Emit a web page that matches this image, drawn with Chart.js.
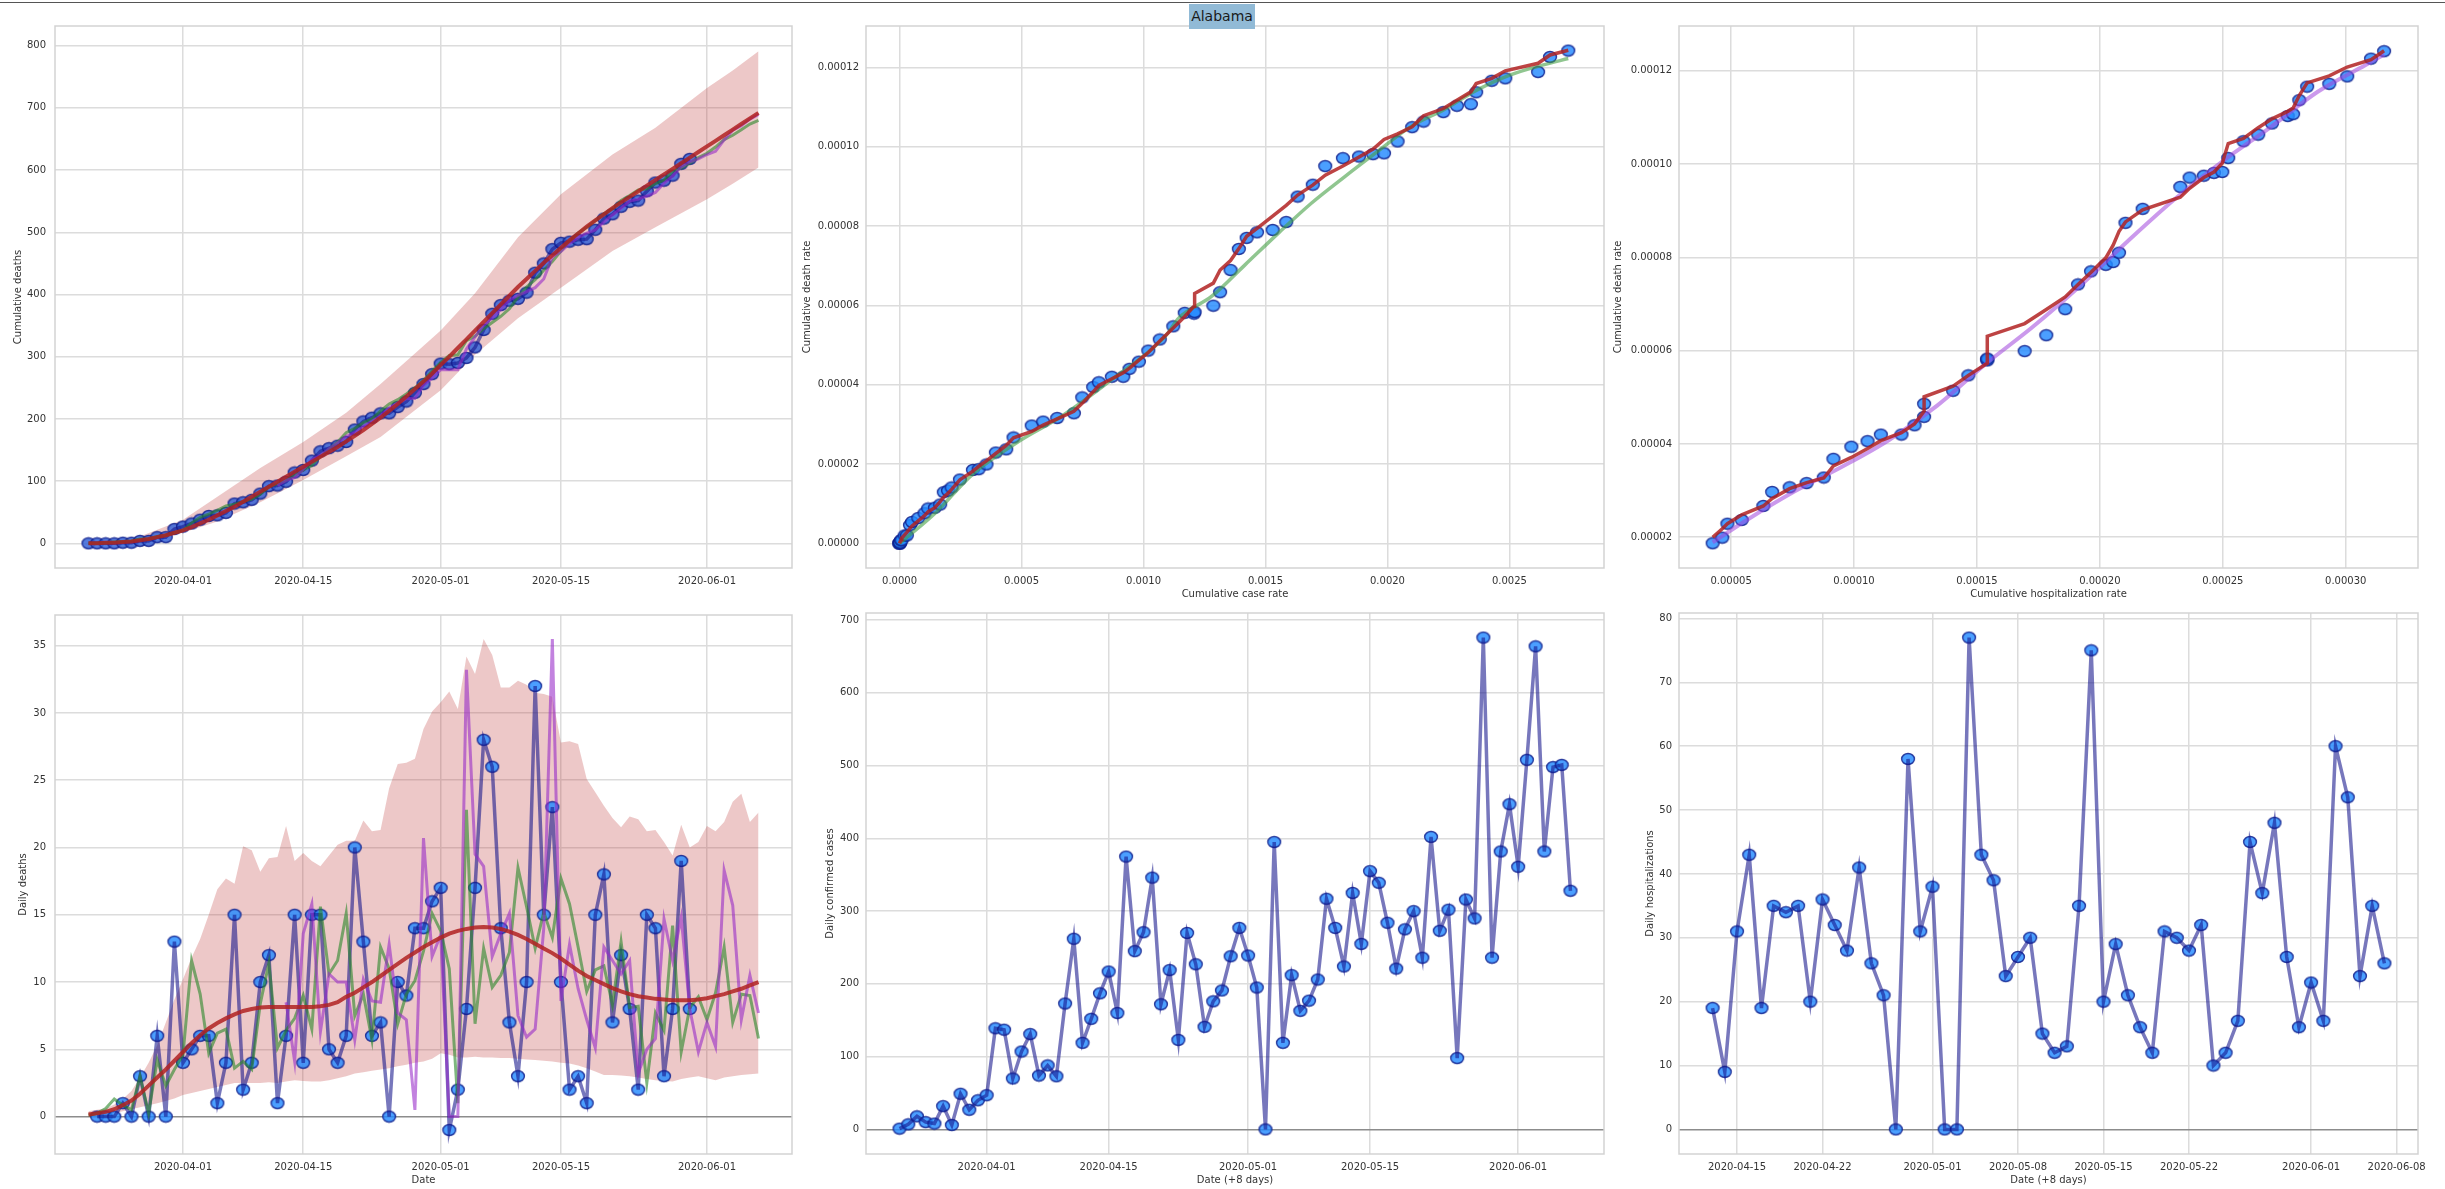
<!DOCTYPE html>
<html>
<head>
<meta charset="utf-8">
<script src="https://cdn.jsdelivr.net/npm/chart.js@4.4.1/dist/chart.umd.min.js"></script>
<style>
html,body{margin:0;padding:0;background:#fff;}
#wrap{position:relative;width:2445px;height:1189px;overflow:hidden;background:#fff;}
canvas{position:absolute;}
#topline{position:absolute;left:0;top:2px;width:2445px;height:1px;background:#555;}
#title{position:absolute;left:1189px;top:4px;width:66px;height:25px;line-height:25px;background:rgb(145,186,214);font-family:"DejaVu Sans";font-size:14px;color:#1a1a1a;text-align:center;z-index:5;}
</style>
</head>
<body>
<div id="wrap">
<div id="topline"></div>
<canvas id="cTL"></canvas>
<canvas id="cTM"></canvas>
<canvas id="cTR"></canvas>
<canvas id="cBL"></canvas>
<canvas id="cBM"></canvas>
<canvas id="cBR"></canvas>
<div id="title">Alabama</div>
</div>
<script>
// ---------------- DATA ----------------
// Observed cumulative deaths, daily from 2020-03-21
const cumDeathStart = '2020-03-21';
const cumulativeDeaths = [0,0,0,0,1,1,4,4,10,10, 23,27,32,38,44,45,49,64,66,70, 80,92,93,99,114,118,133,148,153,157,
  163,183,196,202,209,209,219,228,242,256, 272,289,288,290,298,315,343,369,383,390, 393,403,435,450,473,483,485,488,489,504,
  522,529,541,549,551,566,580,583,591,610, 618];

// Observed daily deaths, from 2020-03-22
const dailyDeathStart = '2020-03-22';
const dailyDeaths = [0,0,0,1,0,3,0,6,0,13, 4,5,6,6,1,4,15,2,4,10, 12,1,6,15,4,15,15,5,4,6, 20,13,6,7,0,10,9,14,14,16,
  17,-1,2,8,17,28,26,14,7,3, 10,32,15,23,10,2,3,1,15,18, 7,12,8,2,15,14,3,8,19,8];

// Daily confirmed cases (date +8 days), from 2020-03-22
const caseStart = '2020-03-22';
const dailyCases = [1,7,18,10,8,32,6,49,27,40, 47,139,137,70,107,131,74,88,73,173, 262,119,152,187,217,160,375,245,271,346,
  172,219,123,270,227,141,176,191,238,277, 239,195,0,395,119,212,163,177,206,317, 277,224,325,255,355,339,284,221,275,300,
  236,402,273,302,98,316,290,676,236,382, 447,361,508,664,382,498,501,328];

// Daily hospitalizations (date +8 days), from 2020-04-13
const hospStart = '2020-04-13';
const dailyHosp = [19,9,31,43,19,35,34,35,20,36, 32,28,41,26,21,0,58,31,38,0, 0,77,43,39,24,27,30,15,12,13,
  35,75,20,29,21,16,12,31,30,28, 32,10,12,17,45,37,48,27,16,23, 17,60,52,24,35,26];

// Model curves for daily deaths, from 2020-03-21
const modelStart = '2020-03-21';
const redDaily = [0.15,0.25,0.35,0.55,0.85,1.2,1.7,2.3,2.9,3.5, 4.15,4.8,5.45,6.05,6.55,6.95,7.3,7.6,7.85,8.0,
  8.1,8.15,8.15,8.15,8.15,8.15,8.15,8.2,8.3,8.5, 8.9,9.2,9.6,10.0,10.45,10.9,11.35,11.8,12.2,12.6,
  12.95,13.3,13.6,13.8,13.95,14.05,14.1,14.05,13.95,13.75, 13.5,13.2,12.85,12.5,12.15,11.75,11.3,10.85,10.45,10.15,
  9.85,9.55,9.3,9.1,8.95,8.85,8.75,8.7,8.65,8.65, 8.65,8.7,8.8,8.95,9.1,9.3,9.5,9.75,10.0];
const greenDaily = [0.1,0.25,0.6,1.3,0.85,0.5,3.0,0.25,4.2,2.3, 3.5,4.6,11.6,9.1,4.7,6.2,6.5,3.6,4.1,3.5,
  8.4,11.4,5.1,6.4,7.3,9.0,6.5,15.6,10.6,11.6, 15.1,7.5,9.1,5.7,12.6,11.0,6.9,9.1,10.1,12.3,
  15.1,13.8,11.0,1.0,22.8,6.9,12.5,9.6,10.5,12.2, 18.5,15.6,12.5,15.2,13.3,17.7,15.8,12.6,9.3,10.9,
  11.2,8.3,13.0,8.1,8.2,2.5,7.7,6.4,14.2,4.8, 8.1,8.9,7.2,9.2,12.6,7.0,9.1,9.0,5.8];
const bandDailyUpper = [0.4,0.5,0.6,0.9,1.3,1.9,2.9,4.0,5.3,7.0, 8.7,10.2,11.8,13.2,15.0,16.9,17.7,17.3,20.1,19.8,
  18.2,19.2,19.3,21.6,19.0,19.6,19.0,18.6,19.4,20.2, 20.5,20.5,22.0,21.2,21.3,24.4,26.2,26.3,26.6,28.8,
  30.1,30.8,31.6,30.3,34.2,32.9,35.5,34.3,31.9,31.9, 32.4,32.1,31.5,31.4,31.2,27.8,27.9,27.7,25.1,24.1,
  23.1,22.2,21.5,22.3,22.1,21.2,21.3,20.4,19.4,21.7, 20.0,20.4,21.6,21.2,21.9,23.4,24.0,21.9,22.6];
const bandDailyLower = [0,0.05,0.1,0.25,0.4,0.55,0.7,0.85,1.0,1.15, 1.35,1.6,1.75,1.9,2.05,2.2,2.35,2.5,2.5,2.5,
  2.5,2.55,2.5,2.6,2.7,2.65,2.6,2.6,2.7,2.85, 3.0,3.2,3.3,3.4,3.5,3.6,3.75,3.85,4.0,4.1,
  4.3,4.7,4.6,4.4,4.4,4.45,4.4,4.4,4.35,4.35, 4.3,4.25,4.2,4.15,4.1,4.0,3.95,3.8,3.6,3.35,
  3.1,3.1,3.05,3.0,2.9,2.8,2.7,2.65,2.6,2.8, 2.9,3.0,2.85,2.7,2.9,3.0,3.1,3.15,3.2];
// Purple model (daily deaths), from 2020-04-13
const purpleDailyStart = '2020-04-13';
const purpleDaily = [8.5,4.1,13.6,15.8,6.3,10.6,10.0,10.0,5.7,10.2, 8.6,8.5,12.8,7.7,7.2,0.5,20.7,11.9,13.5,0,
  0,33.2,19.5,18.6,11.9,13.6,15.1,7.5,5.9,6.5, 14.0,35.5,8.6,12.8,9.5,7.2,5.1,12.6,11.6,10.6,
  11.6,3.2,5.0,5.8,14.7,11.6,14.8,8.0,4.8,7.0, 5.2,18.3,15.7,7.2,10.5,7.7];

// Model curves for cumulative deaths, from 2020-03-21
const redCum = [0,0,1,1,2,3,5,7,10,13, 17,21,26,32,38,45,52,59,67,75, 83,91,99,107,115,123,131,139,147,155,
  164,173,182,192,202,213,224,236,248,260, 273,287,300,314,328,342,356,370,384,398, 412,425,438,451,463,475,487,498,509,519,
  529,539,548,557,566,575,584,593,602,611, 620,629,638,647,656,665,674,683,692];
const greenCum = [0,0,1,2,3,4,7,7,11,13, 17,21,33,42,47,53,60,63,67,71, 79,91,96,102,109,118,125,140,151,163,
  178,185,194,200,213,224,231,240,250,262, 277,291,302,303,326,333,345,355,365,377, 396,412,424,439,453,470,486,499,508,519,
  530,538,551,559,568,570,578,584,598,603, 611,620,627,637,649,656,665,674,680];
const purpleCumStart = '2020-04-12';
const purpleCum = [93,101.5,105.6,119.2,135,141.3,151.9,161.9,171.9,177.6, 187.8,196.4,204.9,217.7,225.4,232.6,233.1,253.8,265.7,279.2,
  279.2,279.2,312.4,331.9,350.5,362.4,376,391.1,398.6,404.5, 411,425,460.5,469.1,481.9,491.4,498.6,503.7,516.3,527.9,
  538.5,550.1,553.3,558.3,564.1,578.8,590.4,605.2,613.2,618, 625,630.2,648.5,664.2,671.4,681.9,689.6];
// Band for cumulative deaths (days after 2020-03-21)
const cumBandDay = [0,5,11,15,20,25,30,34,38,41,45,50,55,61,66,72,75,78];
const cumBandUpper = [0,6,38,75,121,163,210,256,305,342,402,492,561,625,668,732,760,791];
const cumBandLower = [0,1,17,35,66,102,140,171,214,246,303,362,411,470,508,553,578,604];

// Cumulative case rate vs cumulative death rate (one point per day from 2020-03-21)
const caseRate = [0,0,0,0,0.0000021,0.0000021,0.0000064,0.0000085,0.0000213,0.0000299,
  0.0000427,0.0000512,0.0000768,0.0001024,0.0001173,0.000145,0.0001664,0.0001813,0.0001984,0.0002133,
  0.0002474,0.0003008,0.0003242,0.0003562,0.0003946,0.0004373,0.0004672,0.0005418,0.0005887,0.0006463,
  0.0007146,0.0007487,0.0007935,0.000817,0.0008703,0.0009172,0.0009428,0.0009812,0.0010196,0.0010666,
  0.001122,0.001169,0.0012073,0.0012095,0.0012863,0.001314,0.0013567,0.0013908,0.0014228,0.0014654,
  0.0015294,0.0015849,0.0016318,0.0016937,0.0017449,0.0018174,0.0018835,0.0019411,0.0019859,0.0020414,
  0.0021011,0.002148,0.002229,0.0022845,0.002342,0.0023635,0.0024275,0.0024829,0.0026173,0.0026663,0.002741];
const deathRate = [0,0,0,0,2e-7,2e-7,8e-7,8e-7,2.0e-6,2.0e-6,
  4.6e-6,5.4e-6,6.4e-6,7.6e-6,8.8e-6,9.0e-6,9.8e-6,1.29e-5,1.33e-5,1.41e-5,
  1.61e-5,1.85e-5,1.87e-5,1.99e-5,2.29e-5,2.37e-5,2.67e-5,2.97e-5,3.07e-5,3.16e-5,
  3.28e-5,3.68e-5,3.94e-5,4.06e-5,4.20e-5,4.20e-5,4.40e-5,4.58e-5,4.86e-5,5.14e-5,
  5.47e-5,5.81e-5,5.79e-5,5.83e-5,5.99e-5,6.33e-5,6.89e-5,7.42e-5,7.70e-5,7.84e-5,
  7.90e-5,8.10e-5,8.74e-5,9.04e-5,9.51e-5,9.71e-5,9.75e-5,9.81e-5,9.83e-5,1.013e-4,
  1.049e-4,1.063e-4,1.087e-4,1.103e-4,1.107e-4,1.137e-4,1.166e-4,1.172e-4,1.188e-4,1.226e-4,1.242e-4];
const redCaseFit = [0,0,0,0,3e-7,4e-7,9e-7,1.3e-6,2.2e-6,2.8e-6,
  3.8e-6,4.4e-6,5.7e-6,7.0e-6,8.0e-6,9.0e-6,1.05e-5,1.17e-5,1.26e-5,1.36e-5,
  1.60e-5,1.82e-5,1.94e-5,2.08e-5,2.27e-5,2.47e-5,2.66e-5,2.82e-5,2.98e-5,3.14e-5,
  3.33e-5,3.53e-5,3.82e-5,3.98e-5,4.15e-5,4.30e-5,4.42e-5,4.62e-5,4.81e-5,5.10e-5,
  5.43e-5,5.72e-5,5.98e-5,6.30e-5,6.56e-5,6.89e-5,7.13e-5,7.43e-5,7.74e-5,7.94e-5,
  8.25e-5,8.52e-5,8.78e-5,9.03e-5,9.28e-5,9.51e-5,9.74e-5,9.94e-5,1.018e-4,1.032e-4,
  1.050e-4,1.078e-4,1.096e-4,1.117e-4,1.138e-4,1.159e-4,1.172e-4,1.191e-4,1.210e-4,1.231e-4,1.243e-4];
const greenCaseX = [0,0.000149,0.000299,0.000499,0.000661,0.000875,0.001088,0.001145,0.00128,0.001416,
  0.001553,0.001689,0.001824,0.00196,0.002097,0.002231,0.002368,0.002504,0.002639,0.002741];
const greenCaseY = [0,7.8e-6,1.74e-5,2.61e-5,3.19e-5,4.15e-5,5.21e-5,5.68e-5,6.23e-5,7.02e-5,
  7.82e-5,8.58e-5,9.24e-5,9.88e-5,1.051e-4,1.093e-4,1.143e-4,1.181e-4,1.206e-4,1.222e-4];

// Cumulative hospitalization rate vs cumulative death rate (one point per day from 2020-04-12)
const hospRateFirstDay = 22;
const hospRate = [0.0000425,0.0000464,0.0000485,0.0000543,0.0000631,0.0000667,0.0000738,0.0000807,0.0000877,0.0000916,
  0.0000989,0.0001055,0.0001109,0.0001193,0.0001246,0.0001285,0.0001285,0.0001403,0.0001465,0.0001542,
  0.0001542,0.0001542,0.0001694,0.0001782,0.0001859,0.0001911,0.0001964,0.0002024,0.0002054,0.0002078,
  0.0002104,0.0002174,0.0002327,0.0002365,0.0002423,0.0002464,0.0002498,0.0002522,0.0002584,0.0002644,
  0.00027,0.0002764,0.0002786,0.0002811,0.0002843,0.0002933,0.0003006,0.0003103,0.0003156];
const redHospFit = [2.0e-5,2.18e-5,2.29e-5,2.48e-5,2.67e-5,2.83e-5,3.04e-5,3.17e-5,3.27e-5,3.53e-5,
  3.71e-5,3.90e-5,4.07e-5,4.24e-5,4.43e-5,4.70e-5,5.01e-5,5.24e-5,5.47e-5,5.73e-5,
  5.75e-5,6.31e-5,6.58e-5,6.88e-5,7.15e-5,7.42e-5,7.68e-5,7.99e-5,8.26e-5,8.56e-5,
  8.76e-5,9.02e-5,9.29e-5,9.48e-5,9.71e-5,9.83e-5,1.002e-4,1.044e-4,1.055e-4,1.078e-4,
  1.097e-4,1.113e-4,1.120e-4,1.147e-4,1.174e-4,1.189e-4,1.208e-4,1.224e-4,1.243e-4];
const purpleHospX = [0.0000425,0.0000564,0.0000757,0.0000951,0.0001144,0.0001338,0.0001539,0.0001725,0.0001918,0.0002112,
  0.0002305,0.0002499,0.0002692,0.0002886,0.0003079,0.0003157];
const purpleHospY = [1.89e-5,2.37e-5,2.98e-5,3.51e-5,4.09e-5,4.82e-5,5.73e-5,6.5e-5,7.38e-5,8.34e-5,
  9.25e-5,1.006e-4,1.078e-4,1.155e-4,1.212e-4,1.235e-4];

// Tick labels
const deathTickDates = ['2020-04-01','2020-04-15','2020-05-01','2020-05-15','2020-06-01'];
const hospTickDates = ['2020-04-15','2020-04-22','2020-05-01','2020-05-08','2020-05-15','2020-05-22','2020-06-01','2020-06-08'];
const cumDeathTicks = [0,100,200,300,400,500,600,700,800];
const dailyDeathTicks = [0,5,10,15,20,25,30,35];
const caseTicks = [0,100,200,300,400,500,600,700];
const hospTicks = [0,10,20,30,40,50,60,70,80];
const caseRateTicks = [0,0.0005,0.001,0.0015,0.002,0.0025];
const hospRateTicks = [0.00005,0.0001,0.00015,0.0002,0.00025,0.0003];
const deathRateTicks = [0,0.00002,0.00004,0.00006,0.00008,0.0001,0.00012];
const deathRateTicks2 = [0.00002,0.00004,0.00006,0.00008,0.0001,0.00012];

// ---------------- HELPERS ----------------
const FONT = 'DejaVu Sans';
const BASE = Date.UTC(2020,2,21);
function dayOf(s){ const p=s.split('-').map(Number); return Math.round((Date.UTC(p[0],p[1]-1,p[2])-BASE)/864e5); }
function dateLabel(v){ return new Date(BASE+Math.round(v)*864e5).toISOString().slice(0,10); }
function series(start, vals){ const s=dayOf(start); return vals.map((v,i)=>({x:s+i,y:v})); }
function dayPairs(days, vals){ return days.map((d,i)=>({x:d,y:vals[i]})); }
function pairs(xs, ys){ return xs.map((x,i)=>({x:x,y:ys[i]})); }

const C = {
  dotFill:'rgba(35,138,255,0.82)', dotEdge:'rgba(15,30,140,0.85)',
  dotFillDark:'rgba(55,100,215,0.85)',
  navy:'rgba(20,20,140,0.58)', red:'rgba(178,34,34,0.85)', green:'rgba(40,135,40,0.6)',
  purple:'rgba(150,40,200,0.58)', band:'rgba(190,50,50,0.27)'
};
// slightly wide marker (matches the stretched look of the reference)
function makeMarker(fill, edge){
  const c = document.createElement('canvas');
  c.width = 16; c.height = 14;
  const g = c.getContext('2d');
  g.beginPath(); g.ellipse(8, 7, 6.4, 5.5, 0, 0, Math.PI*2);
  g.fillStyle = fill; g.fill();
  g.lineWidth = 1.4; g.strokeStyle = edge; g.stroke();
  return c;
}
const MARKER = makeMarker(C.dotFill, C.dotEdge);
const MARKER_DARK = makeMarker(C.dotFillDark, C.dotEdge);

function dots(data, marker){ return {data, showLine:false, pointStyle:marker||MARKER, pointRadius:6, pointHoverRadius:6, order:10}; }
function line(data, color, width, order, smooth){
  const d = {data, showLine:true, borderColor:color, borderWidth:width, pointRadius:0, pointHoverRadius:0, fill:false, order:order, tension:0};
  if (smooth) d.cubicInterpolationMode = 'monotone';
  return d;
}
function band(lower, upper){
  return [
    {data:lower, showLine:true, borderWidth:0, borderColor:'rgba(0,0,0,0)', pointRadius:0, fill:false, order:21},
    {data:upper, showLine:true, borderWidth:0, borderColor:'rgba(0,0,0,0)', pointRadius:0, fill:'-1', backgroundColor:C.band, order:20}
  ];
}

const framePlugin = {
  id:'frame',
  beforeDatasetsDraw(chart){
    const a = chart.chartArea, ctx = chart.ctx;
    ctx.save(); ctx.strokeStyle='#d3d3d3'; ctx.lineWidth=1.5;
    ctx.strokeRect(a.left, a.top, a.right-a.left, a.bottom-a.top);
    ctx.restore();
  }
};

function panel(id, box, area, o){
  const cv = document.getElementById(id);
  cv.width = box.w; cv.height = box.h;
  cv.style.left = box.x+'px'; cv.style.top = box.y+'px';
  cv.style.width = box.w+'px'; cv.style.height = box.h+'px';
  const yW = area.l - box.x, xH = box.y + box.h - area.b;
  const tickFont = {family:FONT, size:10};
  const titleFont = {family:FONT, size:10};
  new Chart(cv, {
    type:'line',
    data:{datasets:o.datasets},
    plugins:[framePlugin],
    options:{
      responsive:false, animation:false, events:[], devicePixelRatio:1,
      layout:{padding:{top:area.t-box.y, right:box.x+box.w-area.r, left:0, bottom:0}},
      plugins:{legend:{display:false}, tooltip:{enabled:false}},
      scales:{
        x:{type:'linear', min:o.xMin, max:o.xMax,
          afterFit:s=>{s.height=xH;},
          afterBuildTicks:s=>{s.ticks=o.xTicks.map(v=>({value:v}));},
          ticks:{callback:o.xFmt, font:tickFont, color:'#333', padding:7, maxRotation:0, minRotation:0, autoSkip:false},
          grid:{color:'#dcdcdc', lineWidth:1.5, drawTicks:false},
          border:{display:false},
          title:{display:!!o.xTitle, text:o.xTitle||'', font:titleFont, color:'#333', padding:{top:0,bottom:o.xTitlePad||0}}
        },
        y:{type:'linear', min:o.yMin, max:o.yMax,
          afterFit:s=>{s.width=yW;},
          afterBuildTicks:s=>{s.ticks=o.yTicks.map(v=>({value:v}));},
          ticks:{callback:o.yFmt, font:tickFont, color:'#333', padding:o.yTickPad||7, autoSkip:false},
          grid:{color:(c)=> (o.zeroDark && c.tick && c.tick.value===0) ? '#8c8c8c' : '#dcdcdc', lineWidth:1.5, drawTicks:false},
          border:{display:false},
          title:{display:true, text:o.yTitle, font:titleFont, color:'#333', padding:{top:o.yTitlePad||0,bottom:0}}
        }
      }
    }
  });
}

const fmtDate = v => dateLabel(v);
const fmtInt = v => String(v);
const deathXTicks = deathTickDates.map(dayOf);

// ---------------- TOP LEFT: cumulative deaths ----------------
panel('cTL', {x:0,y:0,w:800,h:600}, {l:55,t:26,r:792,b:568}, {
  xMin:-3.9, xMax:81.9, xTicks:deathXTicks, xFmt:fmtDate,
  yMin:-39.6, yMax:831.6, yTicks:cumDeathTicks, yFmt:fmtInt, yTickPad:9,
  yTitle:'Cumulative deaths', yTitlePad:12,
  datasets:[
    ...band(dayPairs(cumBandDay, cumBandLower), dayPairs(cumBandDay, cumBandUpper)),
    dots(series(cumDeathStart, cumulativeDeaths), MARKER_DARK),
    line(series(cumDeathStart, cumulativeDeaths), C.navy, 3.5, 9),
    line(series(modelStart, greenCum), C.green, 3, 8),
    line(series(purpleCumStart, purpleCum), C.purple, 3, 7),
    line(series(modelStart, redCum), C.red, 4, 1)
  ]
});

// ---------------- TOP MIDDLE: death rate vs case rate ----------------
panel('cTM', {x:800,y:0,w:812,h:600}, {l:866,t:26,r:1604,b:568}, {
  xMin:-0.0001375, xMax:0.0028875, xTicks:caseRateTicks, xFmt:v=>v.toFixed(4),
  xTitle:'Cumulative case rate', xTitlePad:0,
  yMin:-0.0000062, yMax:0.0001304, yTicks:deathRateTicks, yFmt:v=>v.toFixed(5),
  yTitle:'Cumulative death rate', yTitlePad:1,
  datasets:[
    dots(pairs(caseRate, deathRate)),
    line(pairs(greenCaseX, greenCaseY), 'rgba(70,160,70,0.6)', 3.5, 8, true),
    line(pairs(caseRate, redCaseFit), C.red, 3.5, 1)
  ]
});

// ---------------- TOP RIGHT: death rate vs hospitalization rate ----------------
const deathRateFromHosp = deathRate.slice(hospRateFirstDay);
panel('cTR', {x:1612,y:0,w:833,h:600}, {l:1679,t:26,r:2418,b:568}, {
  xMin:0.0000288, xMax:0.0003294, xTicks:hospRateTicks, xFmt:v=>v.toFixed(5),
  xTitle:'Cumulative hospitalization rate', xTitlePad:0,
  yMin:0.0000134, yMax:0.0001296, yTicks:deathRateTicks2, yFmt:v=>v.toFixed(5),
  yTitle:'Cumulative death rate', yTitlePad:0,
  datasets:[
    dots(pairs(hospRate, deathRateFromHosp)),
    line(pairs(purpleHospX, purpleHospY), 'rgba(160,70,220,0.55)', 4, 8, true),
    line(pairs(hospRate, redHospFit), C.red, 3.5, 1)
  ]
});

// ---------------- BOTTOM LEFT: daily deaths ----------------
panel('cBL', {x:0,y:600,w:800,h:589}, {l:55,t:612,r:792,b:1154}, {
  xMin:-3.9, xMax:81.9, xTicks:deathXTicks, xFmt:fmtDate,
  xTitle:'Date', xTitlePad:3,
  yMin:-2.78, yMax:37.28, yTicks:dailyDeathTicks, yFmt:fmtInt, yTickPad:9, zeroDark:true,
  yTitle:'Daily deaths', yTitlePad:17,
  datasets:[
    ...band(series(modelStart, bandDailyLower), series(modelStart, bandDailyUpper)),
    dots(series(dailyDeathStart, dailyDeaths)),
    line(series(dailyDeathStart, dailyDeaths), C.navy, 3.5, 9),
    line(series(modelStart, greenDaily), C.green, 3, 8),
    line(series(purpleDailyStart, purpleDaily), C.purple, 3, 7),
    line(series(modelStart, redDaily), C.red, 4, 1)
  ]
});

// ---------------- BOTTOM MIDDLE: daily confirmed cases ----------------
panel('cBM', {x:800,y:600,w:812,h:589}, {l:866,t:612,r:1604,b:1154}, {
  xMin:-2.85, xMax:81.85, xTicks:deathXTicks, xFmt:fmtDate,
  xTitle:'Date (+8 days)', xTitlePad:3,
  yMin:-33.8, yMax:709.8, yTicks:caseTicks, yFmt:fmtInt, zeroDark:true,
  yTitle:'Daily confirmed cases', yTitlePad:24,
  datasets:[
    dots(series(caseStart, dailyCases)),
    line(series(caseStart, dailyCases), C.navy, 3.5, 9)
  ]
});

// ---------------- BOTTOM RIGHT: daily hospitalizations ----------------
panel('cBR', {x:1612,y:600,w:833,h:589}, {l:1679,t:612,r:2418,b:1154}, {
  xMin:20.25, xMax:80.75, xTicks:hospTickDates.map(dayOf), xFmt:fmtDate,
  xTitle:'Date (+8 days)', xTitlePad:3,
  yMin:-3.85, yMax:80.85, yTicks:hospTicks, yFmt:fmtInt, zeroDark:true,
  yTitle:'Daily hospitalizations', yTitlePad:32,
  datasets:[
    dots(series(hospStart, dailyHosp)),
    line(series(hospStart, dailyHosp), C.navy, 3.5, 9)
  ]
});
</script>
</body>
</html>
